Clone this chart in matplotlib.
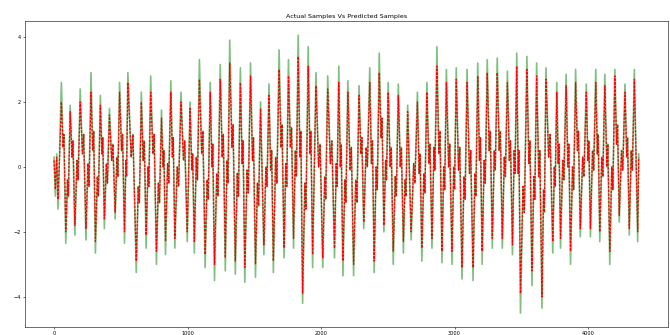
import numpy as np
import matplotlib
matplotlib.use('Agg')
import matplotlib.pyplot as plt

# sample index of each peak / trough
idx = [0, 10, 20, 30, 40, 55, 88, 121, 156, 196, 239, 277, 310, 347, 377, 415,
       458, 491, 528, 553, 616, 654, 690, 724, 767, 805, 835, 875, 905, 951,
       998, 1019, 1051, 1089, 1132, 1170, 1202, 1245, 1283, 1316, 1358, 1396,
       1429, 1472, 1509, 1547, 1572, 1610, 1643, 1686, 1723, 1756, 1794, 1829,
       1862, 1904, 1937, 1962, 2013, 2050, 2101, 2133, 2164, 2201, 2244, 2285,
       2320, 2365, 2398, 2436, 2471, 2503, 2541, 2579, 2617, 2649, 2675, 2722,
       2755, 2793, 2831, 2868, 2906, 2939, 2981, 3013, 3056, 3094, 3139, 3174,
       3207, 3245, 3283, 3320, 3358, 3396, 3434, 3466, 3494, 3542, 3580, 3615,
       3655, 3685, 3736, 3766, 3794, 3836, 3869, 3907, 3942, 3987, 4018, 4058,
       4088, 4126, 4163, 4201, 4234, 4277, 4309, 4347, 4372, 4380]

actual = [0.3, -0.9, 0.4, -1.3, 0.2, 2.6, -2.35, 1.9, -2.1, 2.4, -2.25, 2.9,
          -2.65, 2.2, -1.9, 1.8, -1.6, 2.6, -2.35, 2.9, -3.25, 2.3, -2.5, 2.8,
          -3.0, 1.75, -2.7, 2.65, -2.5, 2.3, -2.3, 2.0, -2.65, 3.3, -3.1, 2.6,
          -3.5, 3.15, -3.2, 3.9, -3.3, 3.05, -3.55, 3.2, -3.4, 2.0, -2.7, 2.55,
          -3.25, 3.6, -2.8, 3.3, -2.5, 4.05, -4.2, 3.7, -3.1, 2.9, -3.1, 2.8,
          -2.8, 3.1, -3.35, 2.65, -3.35, 2.5, -1.9, 3.05, -3.25, 3.5, -2.0, 2.6,
          -3.0, 2.55, -2.65, 1.9, -2.25, 2.3, -2.9, 2.6, -2.5, 3.7, -2.95, 3.0,
          -3.0, 3.05, -3.45, 3.0, -3.5, 3.2, -3.0, 3.3, -2.5, 3.35, -2.5, 2.95,
          -2.7, 3.5, -4.5, 3.4, -3.65, 3.2, -4.35, 3.05, -2.65, 2.6, -2.5, 2.85,
          -3.0, 3.0, -2.15, 2.55, -2.15, 3.0, -2.3, 2.85, -3.0, 3.0, -1.7, 2.55,
          -2.1, 3.0, -2.3, 0.4]

predicted = [0.2, -0.7, 0.3, -1.0, 0.1, 2.0, -2.0, 1.7, -1.8, 2.0, -1.9, 2.3,
             -2.3, 1.9, -1.6, 1.6, -1.4, 2.3, -2.0, 2.6, -2.9, 2.0, -2.1, 2.3,
             -2.6, 1.5, -2.3, 2.3, -2.2, 2.0, -2.0, 1.8, -2.3, 2.7, -2.7, 2.3,
             -3.0, 2.7, -2.8, 3.2, -2.9, 2.6, -3.1, 2.8, -3.0, 1.8, -2.4, 2.2,
             -2.9, 3.0, -2.5, 2.8, -2.2, 3.4, -3.9, 3.1, -2.7, 2.5, -2.8, 2.4,
             -2.5, 2.6, -2.9, 2.3, -3.0, 2.2, -1.7, 2.6, -2.9, 2.9, -1.8, 2.3,
             -2.6, 2.2, -2.3, 1.7, -2.0, 2.0, -2.5, 2.3, -2.2, 3.1, -2.6, 2.6,
             -2.6, 2.7, -3.1, 2.6, -3.1, 2.8, -2.6, 2.9, -2.2, 2.9, -2.2, 2.6,
             -2.4, 3.1, -3.9, 3.0, -3.2, 2.8, -4.0, 2.7, -2.3, 2.3, -2.2, 2.5,
             -2.6, 2.6, -1.9, 2.3, -1.9, 2.6, -2.0, 2.5, -2.6, 2.8, -1.5, 2.3,
             -1.9, 2.7, -2.0, 0.3]

# small wiggles on the way up / down, where both curves lie on top of each other
mid_idx = [68, 74, 101, 107, 135, 142, 172, 180, 213, 222, 254, 262, 290, 297,
           325, 332, 359, 365, 392, 400, 432, 441, 471, 478, 506, 513, 538, 543,
           578, 591, 631, 639, 668, 676, 704, 710, 741, 750, 782, 790, 817, 823,
           851, 859, 887, 893, 923, 933, 970, 979, 1032, 1038, 1066, 1074, 1106,
           1115, 1147, 1155, 1183, 1189, 1219, 1228, 1260, 1268, 1296, 1303,
           1333, 1341, 1373, 1381, 1409, 1416, 1446, 1455, 1487, 1494, 1524,
           1532, 1587, 1595, 1623, 1630, 1660, 1669, 1701, 1708, 1736, 1743,
           1771, 1779, 1808, 1815, 1842, 1849, 1879, 1887, 1917, 1924, 1982,
           1993, 2028, 2035, 2070, 2081, 2114, 2120, 2145, 2151, 2179, 2186,
           2218, 2227, 2260, 2269, 2299, 2306, 2338, 2347, 2378, 2385, 2413,
           2421, 2450, 2457, 2484, 2490, 2518, 2526, 2556, 2564, 2594, 2602,
           2630, 2636, 2694, 2703, 2735, 2742, 2770, 2778, 2808, 2816, 2846,
           2853, 2883, 2891, 2919, 2926, 2956, 2964, 2994, 3000, 3030, 3039,
           3071, 3079, 3112, 3121, 3153, 3160, 3187, 3194, 3222, 3230, 3260,
           3268, 3298, 3305, 3335, 3343, 3373, 3381, 3411, 3419, 3447, 3453,
           3477, 3483, 3513, 3523, 3557, 3565, 3594, 3601, 3631, 3639, 3667,
           3673, 3705, 3716, 3748, 3754, 3777, 3783, 3811, 3819, 3849, 3856,
           3884, 3892, 3921, 3928, 3960, 3969, 3999, 4006, 4034, 4042, 4070,
           4076, 4103, 4111, 4141, 4148, 4178, 4186, 4214, 4221, 4251, 4260,
           4290, 4296, 4324, 4332]

mid_values = [0.6, 1.0, -0.4, -0.9, 0.3, 0.8, 0.2, -0.4, 0.4, 1.0, 0.1, -0.6,
              0.5, 1.1, -0.3, -0.9, 0.4, 0.9, 0.1, -0.5, 0.2, 0.7, 0.3, -0.3,
              0.5, 1.0, 0.2, -0.3, 0.3, 1.0, -0.6, -1.1, 0.2, 0.8, 0.0, -0.6,
              0.4, 1.0, -0.5, -1.1, 0.0, 0.5, 0.1, -0.5, 0.3, 0.9, 0.0, -0.6,
              0.2, 0.8, -0.1, 0.4, 0.3, -0.4, 0.4, 1.1, -0.4, -1.0, 0.0, 0.7,
              -0.2, -0.9, 0.3, 1.0, 0.2, -0.5, 0.6, 1.3, -0.2, -0.9, 0.1, 0.8,
              -0.1, -0.8, 0.2, 0.9, -0.5, -1.2, 0.0, -0.6, -0.1, 0.5, 0.3, -0.5,
              0.6, 1.3, 0.1, -0.6, 0.6, 1.2, 0.5, -0.3, 0.3, 1.1, -0.5, -1.3,
              0.4, 1.1, 0.0, 0.7, -0.3, -1.0, 0.1, 0.8, 0.1, -0.6, 0.0, 0.7,
              -0.4, -1.1, -0.1, 0.6, -0.4, -1.1, 0.4, 0.9, 0.6, 0.0, 0.1, 0.8,
              0.0, -0.7, 0.9, 1.5, 0.2, -0.4, 0.0, 0.6, -0.3, -0.9, 0.0, 0.6,
              -0.4, -0.9, 0.1, -0.5, -0.2, 0.4, -0.2, -0.8, 0.1, 0.7, 0.6, -0.1,
              0.4, 1.1, 0.0, -0.7, 0.0, 0.7, 0.0, -0.7, -0.1, 0.6, -0.3, -1.0,
              -0.2, 0.5, -0.2, -0.9, 0.2, 0.9, 0.2, -0.5, 0.5, 1.1, 0.5, -0.1,
              0.5, 1.1, 0.3, -0.3, 0.2, 0.8, 0.5, -0.2, -0.2, 0.5, -0.6, -1.4,
              0.1, 0.8, -0.3, -1.0, -0.3, 0.5, -0.7, -1.4, 0.3, 1.0, 0.0, -0.6,
              0.1, 0.7, 0.2, -0.4, 0.0, 0.7, 0.0, -0.7, 0.5, 1.1, 0.3, -0.3,
              0.2, 0.8, 0.5, -0.1, 0.4, 1.0, 0.3, -0.3, 0.0, 0.7, 0.0, -0.7,
              0.7, 1.3, 0.5, -0.1, 0.3, 0.9, 0.5, -0.1]

x_all = np.array(idx + mid_idx)
order = np.argsort(x_all, kind='stable')
x_all = x_all[order]
y_actual = np.array(actual + mid_values)[order]
y_pred = np.array(predicted + mid_values)[order]

plt.rcParams['font.size'] = 3.5
fig = plt.figure(figsize=(6.7, 3.35), dpi=100)
ax = fig.add_axes([0.037, 0.024, 0.96, 0.912])
ax.plot(x_all, y_actual, color='g', alpha=0.5, lw=1.2)
ax.plot(x_all, y_pred, 'r--', lw=0.9, dashes=(2, 1))
ax.set_title('Actual Samples Vs Predicted Samples', fontsize=4.6, pad=2.5)
ax.tick_params(length=1.5, width=0.4, pad=1.5, labelsize=3.6)
for s in ax.spines.values():
    s.set_linewidth(0.4)
plt.savefig('out.png', dpi=100)
